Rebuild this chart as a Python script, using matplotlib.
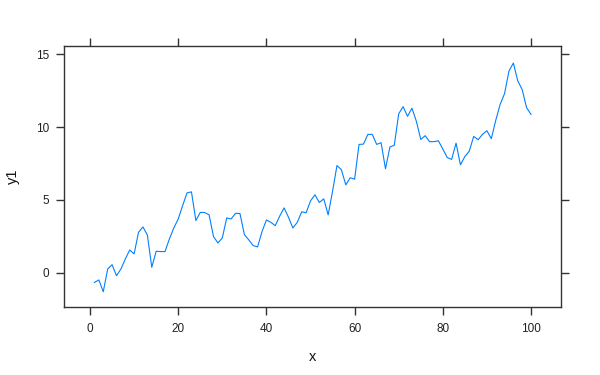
# x と y1 の折れ線 (lattice 風)

import matplotlib
matplotlib.use("Agg")
import matplotlib.pyplot as plt

# データ
x = list(range(1, 101))
y1 = [
    -0.67, -0.50, -1.31, 0.25, 0.55, -0.21, 0.25, 0.94, 1.56, 1.29,
    2.78, 3.14, 2.59, 0.37, 1.47, 1.45, 1.45, 2.32, 3.07, 3.69,
    4.61, 5.48, 5.55, 3.58, 4.14, 4.13, 3.97, 2.48, 2.04, 2.39,
    3.76, 3.69, 4.08, 4.06, 2.62, 2.25, 1.86, 1.77, 2.82, 3.62,
    3.46, 3.23, 3.88, 4.45, 3.81, 3.07, 3.46, 4.18, 4.11, 4.93,
    5.35, 4.82, 5.07, 3.97, 5.60, 7.36, 7.07, 6.03, 6.52, 6.42,
    8.81, 8.83, 9.50, 9.50, 8.81, 8.93, 7.14, 8.63, 8.76, 10.92,
    11.40, 10.74, 11.30, 10.40, 9.15, 9.41, 9.00, 9.00, 9.06, 8.49,
    7.91, 7.78, 8.90, 7.41, 7.98, 8.35, 9.36, 9.13, 9.50, 9.75,
    9.20, 10.46, 11.56, 12.30, 13.85, 14.40, 13.17, 12.57, 11.33, 10.87,
]

# グラフ設定
plt.rcParams["font.family"] = ["Liberation Sans", "DejaVu Sans"]
fig = plt.figure(figsize=(6, 3.75), dpi=100)
ax = fig.add_axes([0.1072, 0.1805, 0.8278, 0.6968])

ax.plot(x, y1, color="#0080ff", lw=0.8)

ax.set_xlim(-5.83, 106.8)
ax.set_ylim(-2.38, 15.57)
ax.set_xticks([0, 20, 40, 60, 80, 100])
ax.set_yticks([0, 5, 10, 15])

for s in ax.spines.values():
    s.set_color("#333333")
    s.set_linewidth(1)
ax.tick_params(direction="out", length=5.5, width=1, color="#333333",
               labelsize=8.5, labelcolor="#222222", pad=5.5,
               top=True, right=True, labeltop=False, labelright=False)

ax.set_xlabel("x", fontsize=10.5, color="#111111")
ax.set_ylabel("y1", fontsize=10.5, color="#111111")
ax.xaxis.set_label_coords(0.5, -0.165)
ax.yaxis.set_label_coords(-0.09, 0.5)

fig.savefig("out.png", dpi=100)
